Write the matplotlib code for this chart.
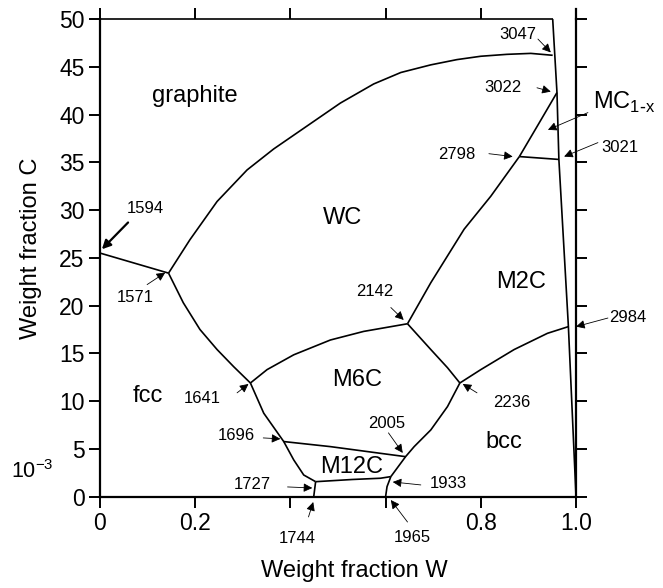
import matplotlib.pyplot as plt

plt.rcParams['font.family'] = ['Liberation Sans', 'DejaVu Sans']

# Fronteras de fase (fraccion W, fraccion C x 10^-3)
top_x = [0.0, 0.951]
top_y = [50.0, 50.0]

mc_x = [0.951, 0.960, 0.964, 0.984, 1.0]      # borde casi vertical derecho
mc_y = [50.0, 42.3, 35.3, 17.8, 0.0]

graf_fcc_x = [0.0, 0.144]
graf_fcc_y = [25.5, 23.4]

graf_wc_x = [0.144, 0.189, 0.246, 0.309, 0.365, 0.435, 0.505, 0.575, 0.632,
             0.695, 0.75, 0.80, 0.855, 0.905, 0.951]
graf_wc_y = [23.4, 26.9, 30.9, 34.2, 36.4, 38.8, 41.2, 43.2, 44.4,
             45.2, 45.75, 46.1, 46.3, 46.4, 46.2]

fcc_wc_x = [0.144, 0.175, 0.21, 0.246, 0.281, 0.316]
fcc_wc_y = [23.4, 20.3, 17.5, 15.4, 13.6, 11.9]

wc_m6c_x = [0.316, 0.351, 0.407, 0.484, 0.554, 0.646]
wc_m6c_y = [11.9, 13.3, 14.85, 16.4, 17.3, 18.1]

wc_m2c_x = [0.646, 0.695, 0.765, 0.821, 0.881]
wc_m2c_y = [18.1, 22.4, 28.0, 31.45, 35.6]

m2c_mc_x = [0.881, 0.92, 0.960]
m2c_mc_y = [35.6, 38.9, 42.3]

mc_h_x = [0.881, 0.964]
mc_h_y = [35.6, 35.3]

fcc_m6c_x = [0.316, 0.344, 0.386, 0.407, 0.428, 0.453]
fcc_m6c_y = [11.9, 8.74, 5.77, 3.85, 2.27, 1.57]

fcc_m12c_x = [0.453, 0.449]
fcc_m12c_y = [1.57, 0.0]

m6c_m12c_x = [0.386, 0.484, 0.589, 0.642]
m6c_m12c_y = [5.77, 5.24, 4.54, 4.19]

m12c_bot_x = [0.453, 0.53, 0.589, 0.611]
m12c_bot_y = [1.57, 1.8, 1.93, 2.1]

m12c_bcc_x = [0.611, 0.603, 0.600]
m12c_bcc_y = [2.1, 1.05, 0.0]

bcc_m6c_x = [0.611, 0.642, 0.66, 0.695, 0.73, 0.756]
bcc_m6c_y = [2.1, 4.19, 5.24, 6.99, 9.43, 11.9]

m6c_m2c_x = [0.646, 0.695, 0.73, 0.756]
m6c_m2c_y = [18.1, 15.4, 13.5, 11.9]

m2c_bcc_x = [0.756, 0.80, 0.87, 0.94, 0.984]
m2c_bcc_y = [11.9, 13.3, 15.4, 17.1, 17.8]

fronteras = [(top_x, top_y), (mc_x, mc_y), (graf_fcc_x, graf_fcc_y),
             (graf_wc_x, graf_wc_y), (fcc_wc_x, fcc_wc_y), (wc_m6c_x, wc_m6c_y),
             (wc_m2c_x, wc_m2c_y), (m2c_mc_x, m2c_mc_y), (mc_h_x, mc_h_y),
             (fcc_m6c_x, fcc_m6c_y), (fcc_m12c_x, fcc_m12c_y),
             (m6c_m12c_x, m6c_m12c_y), (m12c_bot_x, m12c_bot_y),
             (m12c_bcc_x, m12c_bcc_y), (bcc_m6c_x, bcc_m6c_y),
             (m6c_m2c_x, m6c_m2c_y), (m2c_bcc_x, m2c_bcc_y)]

# Nombres de fases
fases = ["graphite", "WC", "M2C", "M6C", "fcc", "bcc", "M12C"]
fases_x = [0.20, 0.51, 0.884, 0.541, 0.101, 0.848, 0.528]
fases_y = [41.9, 29.2, 22.5, 12.2, 10.55, 5.7, 3.1]

# Temperaturas: texto, posicion del texto, cola y punta de la flecha
temps = ["1594", "1571", "3047", "3022", "3021", "2798", "2142", "2984",
         "2236", "2005", "1933", "1965", "1641", "1696", "1727", "1744"]
temps_tx = [0.095, 0.074, 0.878, 0.846, 1.093, 0.749, 0.577, 1.109,
            0.865, 0.602, 0.731, 0.657, 0.215, 0.286, 0.320, 0.415]
temps_ty = [30.16, 20.9, 48.4, 42.8, 36.6, 35.8, 21.45, 18.8,
            9.9, 7.7, 1.4, -4.3, 10.3, 6.36, 1.23, -4.4]
cola_x = [0.059, 0.099, 0.920, 0.918, 1.046, 0.817, 0.611, 1.067,
          0.792, 0.606, 0.674, 0.646, 0.288, 0.343, 0.394, 0.438]
cola_y = [28.7, 22.2, 47.9, 42.8, 37.06, 35.9, 19.8, 18.7,
          10.87, 6.68, 1.23, -2.65, 10.87, 6.15, 1.02, -2.12]
punta_x = [0.004, 0.137, 0.947, 0.947, 0.975, 0.867, 0.638, 1.0,
           0.762, 0.636, 0.615, 0.611, 0.312, 0.379, 0.446, 0.448]
punta_y = [25.9, 23.45, 46.5, 42.4, 35.6, 35.6, 18.5, 17.8,
           11.8, 4.58, 1.54, -0.35, 11.8, 6.05, 0.91, -0.56]

# Marcas del eje x (0.4 y 0.6 quedan sin texto, ahi van 1744 y 1965)
xticks = [0, 0.2, 0.4, 0.6, 0.8, 1.0]
xtick_labels = ["0", "0.2", "", "", "0.8", "1.0"]

fig = plt.figure(figsize=(6.63, 5.88), dpi=100)
ax = fig.add_axes([0.1508, 0.1553, 0.7180, 0.8124])

for fx, fy in fronteras:
    ax.plot(fx, fy, color="black", lw=1.2, clip_on=False,
            solid_capstyle="butt", solid_joinstyle="round")

for n, fx, fy in zip(fases, fases_x, fases_y):
    ax.text(fx, fy, n, fontsize=17, ha="center", va="center")

ax.text(1.036, 41.3, "MC$_{\\mathregular{1\\text{-}x}}$", fontsize=17, ha="left", va="center")
ax.annotate("", xy=(0.941, 38.4), xytext=(1.025, 40.2), annotation_clip=False,
            arrowprops=dict(arrowstyle="-|>", lw=0.6, color="black",
                            mutation_scale=13, shrinkA=0, shrinkB=0))

for i, t in enumerate(temps):
    ax.text(temps_tx[i], temps_ty[i], t, fontsize=12, ha="center", va="center")
    ancho = 1.6 if t == "1594" else 0.6
    ax.annotate("", xy=(punta_x[i], punta_y[i]), xytext=(cola_x[i], cola_y[i]),
                annotation_clip=False,
                arrowprops=dict(arrowstyle="-|>", lw=ancho, color="black",
                                mutation_scale=13, shrinkA=0, shrinkB=0))

ax.text(-0.143, 2.6, "10$^{\\mathregular{-3}}$", fontsize=15.5, ha="center", va="center")

ax.set_xlim(0, 1.0)
ax.set_ylim(0, 50)
ax.set_xticks(xticks)
ax.set_xticklabels(xtick_labels)
ax.set_yticks(range(0, 51, 5))
ax.spines["top"].set_visible(False)
for s in ["left", "bottom", "right"]:
    ax.spines[s].set_linewidth(1.6)
ax.plot([1.0, 1.0], [50, 51], color="black", lw=1.6, clip_on=False)
ax.tick_params(direction="out", length=8, width=1.4, labelsize=16.5, pad=3,
               top=True, right=True)

ax.set_xlabel("Weight fraction W", fontsize=17)
ax.set_ylabel("Weight fraction C", fontsize=17)
ax.xaxis.set_label_coords(0.534, -0.133)
ax.yaxis.set_label_coords(-0.122, 0.519)

plt.savefig("out.png", dpi=100)
